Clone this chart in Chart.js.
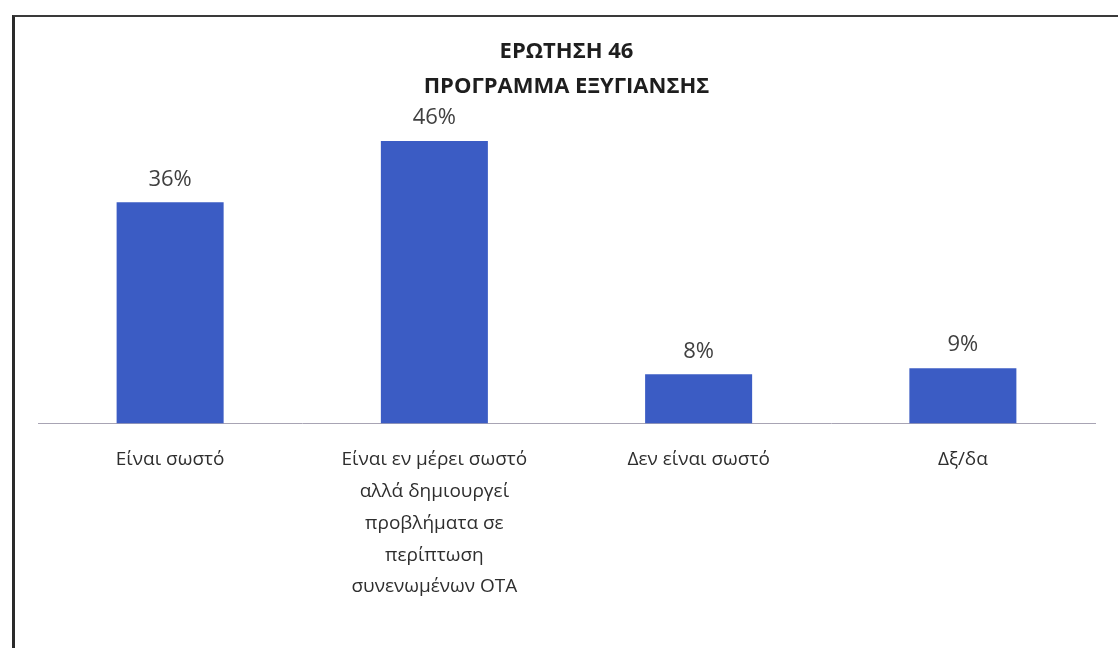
<!DOCTYPE html>
<html>
<head>
<meta charset="utf-8">
<script src="https://cdn.jsdelivr.net/npm/chart.js@4"></script>
<style>
  html, body { margin: 0; padding: 0; background: #ffffff; }
  #wrap { position: relative; width: 1118px; height: 648px; overflow: hidden; }
  #frame { position: absolute; left: 12px; top: 15px; width: 1200px; height: 700px;
           border-left: 3px solid #2a2a2a; border-top: 2px solid #3a3a3a; pointer-events: none; }
  canvas { position: absolute; left: 0; top: 0; }
</style>
</head>
<body>
<div id="wrap">
  <canvas id="c" width="1118" height="648"></canvas>
  <div id="frame"></div>
</div>
<script>
const titleLines = ['ΕΡΩΤΗΣΗ 46', 'ΠΡΟΓΡΑΜΜΑ ΕΞΥΓΙΑΝΣΗΣ'];
const categories = [
  ['Είναι σωστό'],
  ['Είναι εν μέρει σωστό', 'αλλά δημιουργεί', 'προβλήματα σε', 'περίπτωση', 'συνενωμένων ΟΤΑ'],
  ['Δεν είναι σωστό'],
  ['Δξ/δα']
];
const values = [36, 46, 8, 9];
const valueLabels = ['36%', '46%', '8%', '9%'];

const valueLabelPlugin = {
  id: 'valueLabels',
  afterDatasetsDraw(chart) {
    const ctx = chart.ctx;
    const meta = chart.getDatasetMeta(0);
    ctx.save();
    ctx.font = '22px "Open Sans"';
    ctx.fillStyle = '#404040';
    ctx.textAlign = 'center';
    ctx.textBaseline = 'bottom';
    meta.data.forEach((bar, i) => {
      ctx.fillText(valueLabels[i], bar.x, bar.y - 12);
    });
    ctx.restore();
  }
};

new Chart(document.getElementById('c'), {
  type: 'bar',
  data: {
    labels: categories,
    datasets: [{
      data: values,
      backgroundColor: '#3b5cc4',
      borderWidth: 0,
      categoryPercentage: 0.405,
      barPercentage: 1
    }]
  },
  options: {
    responsive: false,
    animation: false,
    devicePixelRatio: 1,
    layout: { padding: { top: 34, left: 38, right: 23, bottom: 33 } },
    plugins: {
      legend: { display: false },
      tooltip: { enabled: false },
      title: {
        display: true,
        text: titleLines,
        color: '#1e1e1e',
        font: { family: '"Open Sans"', size: 22, weight: 'bold', lineHeight: 1.6 },
        padding: { top: 0, bottom: 12 }
      }
    },
    scales: {
      x: {
        grid: { display: false },
        border: { display: true, color: '#a8a4b4', width: 1 },
        ticks: {
          color: '#2e2e2e',
          font: { family: '"Open Sans"', size: 19, lineHeight: 1.68 },
          maxRotation: 0,
          autoSkip: false,
          padding: 12
        }
      },
      y: {
        display: false,
        min: 0,
        max: 50
      }
    }
  },
  plugins: [valueLabelPlugin]
});
</script>
</body>
</html>
